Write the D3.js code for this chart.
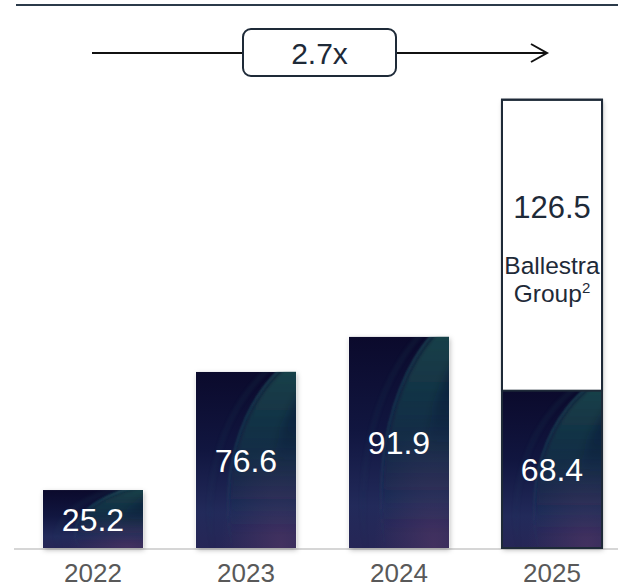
<!DOCTYPE html>
<html><head><meta charset="utf-8">
<script src="https://cdn.jsdelivr.net/npm/d3@7"></script>
<style>html,body{margin:0;padding:0;background:#fff;}svg{display:block;font-family:"Liberation Sans",Arial,sans-serif;}</style>
</head><body>
<script>
const years = ["2022","2023","2024","2025"];
const baseValues = [25.2, 76.6, 91.9, 68.4];
const ballestraValues = [0, 0, 0, 126.5];
const multipleLabel = "2.7x";
const ballestraLines = ["Ballestra", "Group"];

const W = 618, H = 587;
const svg = d3.select("body").append("svg").attr("width", W).attr("height", H);
const defs = svg.append("defs");

const x = d3.scaleBand().domain(years).range([16.5, 628.5]).paddingInner(0.346).paddingOuter(0.173);
const y = d3.scaleLinear().domain([0, 200]).range([548, 88]);

// gradients
const lg = defs.append("linearGradient").attr("id","baseGrad").attr("x1",0).attr("y1",0).attr("x2",0).attr("y2",1);
lg.append("stop").attr("offset","0%").attr("stop-color","#0b0a2c");
lg.append("stop").attr("offset","45%").attr("stop-color","#111640");
lg.append("stop").attr("offset","80%").attr("stop-color","#222a5a");
lg.append("stop").attr("offset","100%").attr("stop-color","#262656");
const tg = defs.append("linearGradient").attr("id","tealGrad").attr("x1",0).attr("y1",0).attr("x2",0).attr("y2",1);
tg.append("stop").attr("offset","0%").attr("stop-color","#1a5654").attr("stop-opacity",0.85);
tg.append("stop").attr("offset","35%").attr("stop-color","#17424c").attr("stop-opacity",0.5);
tg.append("stop").attr("offset","60%").attr("stop-color","#1a3050").attr("stop-opacity",0.0);
const dg = defs.append("linearGradient").attr("id","darkGrad").attr("x1",0).attr("y1",0).attr("x2",0).attr("y2",1);
dg.append("stop").attr("offset","0%").attr("stop-color","#0c0d2e").attr("stop-opacity",0.7);
dg.append("stop").attr("offset","40%").attr("stop-color","#0c0d2e").attr("stop-opacity",0.0);
const lg2 = defs.append("linearGradient").attr("id","lineGrad").attr("x1",0).attr("y1",0).attr("x2",0).attr("y2",1);
lg2.append("stop").attr("offset","0%").attr("stop-color","#2f7a78").attr("stop-opacity",0.7);
lg2.append("stop").attr("offset","40%").attr("stop-color","#25606a").attr("stop-opacity",0.4);
lg2.append("stop").attr("offset","65%").attr("stop-color","#2a4a70").attr("stop-opacity",0);
const pg = defs.append("radialGradient").attr("id","purpGrad").attr("cx","85%").attr("cy","100%").attr("r","60%");
pg.append("stop").attr("offset","0%").attr("stop-color","#4a3462").attr("stop-opacity",0.8);
pg.append("stop").attr("offset","100%").attr("stop-color","#4a3462").attr("stop-opacity",0);
defs.append("filter").attr("id","blur").attr("x","-50%").attr("y","-50%").attr("width","200%").attr("height","200%")
  .append("feGaussianBlur").attr("stdDeviation",2);
defs.append("filter").attr("id","blur3").attr("x","-50%").attr("y","-50%").attr("width","200%").attr("height","200%")
  .append("feGaussianBlur").attr("stdDeviation",5);
defs.append("filter").attr("id","blur2").attr("x","-50%").attr("y","-50%").attr("width","200%").attr("height","200%")
  .append("feGaussianBlur").attr("stdDeviation",1);
const sh = defs.append("filter").attr("id","shadow").attr("x","-20%").attr("y","-20%").attr("width","140%").attr("height","140%");
sh.append("feDropShadow").attr("dx",1).attr("dy",2).attr("stdDeviation",2.5).attr("flood-color","#000").attr("flood-opacity",0.28);

// top rule
svg.append("line").attr("x1",16).attr("x2",618).attr("y1",5).attr("y2",5).attr("stroke","#2b3a4a").attr("stroke-width",2);

// baseline
svg.append("line").attr("x1",14).attr("x2",618).attr("y1",549).attr("y2",549).attr("stroke","#d6d6d6").attr("stroke-width",2);

// growth arrow
const ay = 53;
svg.append("line").attr("x1",92).attr("x2",546).attr("y1",ay).attr("y2",ay).attr("stroke","#111").attr("stroke-width",2);
svg.append("path").attr("d",`M531,${ay-9}L547,${ay}L531,${ay+9}`).attr("fill","none").attr("stroke","#111").attr("stroke-width",2);
svg.append("rect").attr("x",243).attr("y",29).attr("width",153).attr("height",47).attr("rx",8)
  .attr("fill","#fff").attr("stroke","#1e2a38").attr("stroke-width",2);
svg.append("text").attr("x",319.5).attr("y",64).attr("text-anchor","middle").attr("font-size",30).attr("fill","#1e2a38").text(multipleLabel);

// bars
years.forEach((yr, i) => {
  const bx = x(yr), bw = x.bandwidth();
  const total = baseValues[i] + ballestraValues[i];
  const top = y(total), bot = y(0), dTop = y(baseValues[i]);
  const g = svg.append("g");
  g.append("rect").attr("x",bx).attr("y",top).attr("width",bw).attr("height",bot-top).attr("fill","#fff").attr("filter","url(#shadow)");
  const cid = "clip"+i;
  defs.append("clipPath").attr("id",cid).append("rect").attr("x",bx).attr("y",dTop).attr("width",bw).attr("height",bot-dTop);
  const h = bot - dTop;
  const tex = g.append("g").attr("clip-path",`url(#${cid})`);
  tex.append("rect").attr("x",bx).attr("y",dTop).attr("width",bw).attr("height",h).attr("fill","url(#baseGrad)");
  tex.append("rect").attr("x",bx).attr("y",dTop).attr("width",bw).attr("height",h).attr("fill","url(#purpGrad)");
  // teal swoosh region
  tex.append("ellipse").attr("cx",bx+bw*1.46).attr("cy",dTop+h*0.75).attr("rx",bw*1.12).attr("ry",h*0.9)
    .attr("fill","url(#tealGrad)").attr("filter","url(#blur)");
  // darker outer region at top-right
  tex.append("ellipse").attr("cx",bx+bw*1.85).attr("cy",dTop+h*0.75).attr("rx",bw*1.12).attr("ry",h*0.9)
    .attr("fill","url(#darkGrad)").attr("filter","url(#blur3)");
  // thin edge line
  tex.append("ellipse").attr("cx",bx+bw*1.46).attr("cy",dTop+h*0.75).attr("rx",bw*1.14).attr("ry",h*0.91)
    .attr("fill","none").attr("stroke","url(#lineGrad)").attr("stroke-width",1.6).attr("filter","url(#blur2)");
  // faint secondary line
  tex.append("ellipse").attr("cx",bx+bw*1.46).attr("cy",dTop+h*0.8).attr("rx",bw*1.32).attr("ry",h*0.98)
    .attr("fill","none").attr("stroke","url(#lineGrad)").attr("stroke-width",3).attr("opacity",0.3).attr("filter","url(#blur)");
  if (ballestraValues[i] > 0) {
    g.append("rect").attr("x",bx).attr("y",top).attr("width",bw).attr("height",dTop-top)
      .attr("fill","#fff").attr("stroke","#1e2a38").attr("stroke-width",2);
    g.append("rect").attr("x",bx).attr("y",top).attr("width",bw).attr("height",bot-top)
      .attr("fill","none").attr("stroke","#1e2a38").attr("stroke-width",2);
    const c = (top + dTop) / 2;
    g.append("text").attr("x",bx+bw/2).attr("y",c-27).attr("text-anchor","middle").attr("font-size",31).attr("fill","#1e2a38").text(ballestraValues[i].toFixed(1));
    g.append("text").attr("x",bx+bw/2).attr("y",c+28.5).attr("text-anchor","middle").attr("font-size",24.5).attr("fill","#1e2a38").text(ballestraLines[0]);
    const t2 = g.append("text").attr("x",bx+bw/2).attr("y",c+56.5).attr("text-anchor","middle").attr("font-size",24.5).attr("fill","#1e2a38");
    t2.append("tspan").text(ballestraLines[1]);
    t2.append("tspan").attr("font-size",15).attr("dy",-9).text("2");
  }
  g.append("text").attr("x",bx+bw/2).attr("y",(dTop+bot)/2+12).attr("text-anchor","middle").attr("font-size",32).attr("fill","#fff").text(baseValues[i].toFixed(1));
});

// year axis labels
const xAxis = d3.axisBottom(x).tickSize(0).tickPadding(0);
const ax = svg.append("g").attr("transform","translate(0,549)").call(xAxis);
ax.select(".domain").remove();
ax.selectAll("text").attr("font-size",26).attr("fill","#595959").attr("dy",null).attr("y",33).attr("font-family","Liberation Sans, Arial, sans-serif");
</script>
</body></html>
